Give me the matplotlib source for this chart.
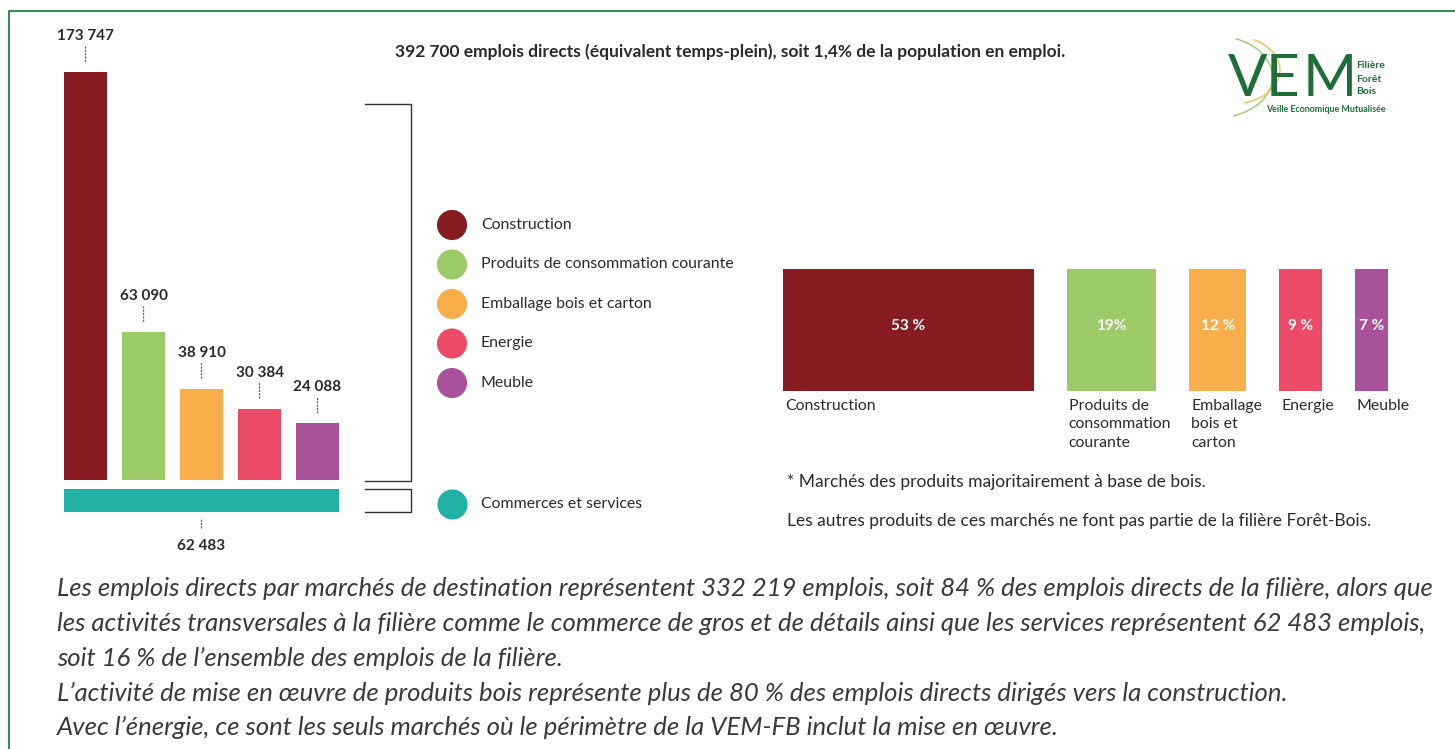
import matplotlib.pyplot as plt
from matplotlib.patches import Arc
import numpy as np

plt.rcParams['font.family'] = ['Lato', 'DejaVu Sans']

# Data
categories = ["Construction", "Produits de consommation courante",
              "Emballage bois et carton", "Energie", "Meuble"]
emplois = [173747, 63090, 38910, 30384, 24088]
emplois_labels = ["173 747", "63 090", "38 910", "30 384", "24 088"]
colors = ["#861c22", "#9dcb6a", "#f7ae4b", "#eb4a68", "#aa519b"]

commerce_label = "Commerces et services"
commerce_value_label = "62 483"
commerce_color = "#20b0a5"

parts = [53, 19, 12, 9, 7]
parts_labels = ["53 %", "19%", "12 %", "9 %", "7 %"]
parts_names = ["Construction", "Produits de\nconsommation\ncourante",
               "Emballage\nbois et\ncarton", "Energie", "Meuble"]

title = "392 700 emplois directs (équivalent temps-plein), soit 1,4% de la population en emploi."
note1 = "* Marchés des produits majoritairement à base de bois."
note2 = "Les autres produits de ces marchés ne font pas partie de la filière Forêt-Bois."
paragraph = [
    "Les emplois directs par marchés de destination représentent 332 219 emplois, soit 84 % des emplois directs de la filière, alors que",
    "les activités transversales à la filière comme le commerce de gros et de détails ainsi que les services représentent 62 483 emplois,",
    "soit 16 % de l’ensemble des emplois de la filière.",
    "L’activité de mise en œuvre de produits bois représente plus de 80 % des emplois directs dirigés vers la construction.",
    "Avec l’énergie, ce sont les seuls marchés où le périmètre de la VEM-FB inclut la mise en œuvre.",
]

W, H = 1455, 749
fig = plt.figure(figsize=(W / 100, H / 100), dpi=100)

# background axes in pixel coordinates
ax = fig.add_axes([0, 0, 1, 1])
ax.set_xlim(0, W)
ax.set_ylim(H, 0)
ax.axis('off')

txt = "#2b2b2b"
dots = (0, (0.8, 1.6))

# frame
ax.plot([9, 9, W], [H, 11, 11], color="#3a8a5c", lw=1.5)

# ---------------- left bar chart ----------------
ax1 = fig.add_axes([64 / W, (H - 480) / H, 276 / W, 408 / H])
x = np.arange(len(emplois))
bw = 43 / 58
ax1.bar(x, emplois, width=bw, color=colors)
ax1.set_xlim(-21.5 / 58, (276 - 21.5) / 58)
ax1.set_ylim(0, max(emplois))
ax1.axis('off')

for i, (v, lab) in enumerate(zip(emplois, emplois_labels)):
    ax1.annotate(lab, xy=(i, v), xytext=(0, 36), textcoords='offset pixels',
                 ha='center', va='center', fontsize=11, fontweight='bold',
                 color=txt, annotation_clip=False)
    ax1.annotate('', xy=(i, v), xytext=(0, 25), textcoords='offset pixels',
                 arrowprops=dict(arrowstyle='-', linestyle=dots,
                                 color='#666666', lw=1, shrinkA=0, shrinkB=7),
                 annotation_clip=False)

# commerce band below the bars
x_mid = (x[0] + x[-1]) / 2
band_w = x[-1] - x[0] + bw
pix = max(emplois) / 408
ax1.bar(x_mid, -23 * pix, bottom=-9 * pix, width=band_w,
        color=commerce_color, clip_on=False)
ax1.annotate('', xy=(x_mid, -32 * pix), xytext=(0, -16), textcoords='offset pixels',
             arrowprops=dict(arrowstyle='-', linestyle=dots,
                             color='#666666', lw=1, shrinkA=0, shrinkB=5),
             annotation_clip=False)
ax1.annotate(commerce_value_label, xy=(x_mid, -32 * pix), xytext=(0, -34),
             textcoords='offset pixels', ha='center', va='center',
             fontsize=11, fontweight='bold', color=txt, annotation_clip=False)

# brackets
ax.plot([365, 411, 411, 365], [104, 104, 481, 481], color="#333333", lw=1)
ax.plot([365, 411, 411, 365], [489, 489, 512, 512], color="#333333", lw=1)

# ---------------- legend ----------------
leg_y = 225 + 39.5 * np.arange(len(categories))
ax.scatter([452] * len(categories), leg_y, s=470, c=colors, lw=0)
for yy, name in zip(leg_y, categories):
    ax.text(481, yy, name, ha='left', va='center', fontsize=11.4, color=txt)
ax.scatter([452], [504], s=470, c=commerce_color, lw=0)
ax.text(481, 504, commerce_label, ha='left', va='center', fontsize=11.4, color=txt)

# ---------------- percent bars ----------------
ax2 = fig.add_axes([783 / W, (H - 391) / H, 605 / W, 122 / H])
gap = 7
lefts = np.concatenate([[0], np.cumsum(np.array(parts[:-1]) + gap)])
ax2.bar(lefts, [1] * len(parts), width=parts, align='edge', color=colors)
ax2.set_xlim(0, sum(parts) + gap * (len(parts) - 1))
ax2.set_ylim(0, 1)
ax2.axis('off')
for l, p, lab, name in zip(lefts, parts, parts_labels, parts_names):
    ax2.text(l + p / 2, 0.53, lab, ha='center', va='center', fontsize=11,
             fontweight='bold', color='white')
    ax2.annotate(name, xy=(l, 0), xytext=(2, -8), textcoords='offset pixels',
                 ha='left', va='top', fontsize=11.4, color=txt,
                 linespacing=1.4, annotation_clip=False)

ax.text(787, 482, note1, ha='left', va='center', fontsize=12.5, color=txt)
ax.text(787, 521, note2, ha='left', va='center', fontsize=12.5, color=txt)

# title
ax.text(730, 52, title, ha='center', va='center', fontsize=12.5,
        fontweight='bold', color=txt)

# paragraph
for k, line in enumerate(paragraph):
    ax.text(57, 589 + 34.7 * k, line, ha='left', va='center', fontsize=18.5,
            style='italic', color="#3a3a3a")

# ---------------- logo ----------------
green = "#1f6e3a"
for letter, lx in zip("VEM", [1228, 1266, 1303]):
    ax.text(lx, 96, letter, ha='left', va='baseline', fontsize=42, color=green)
ax.add_patch(Arc((1215, 77), 115, 82, theta1=-62, theta2=65, color="#9dcb6a", lw=1))
ax.add_patch(Arc((1232, 70), 96, 68, theta1=-55, theta2=70, color="#f2c14e", lw=1))
ax.text(1356, 66, "Filière", ha='left', va='center', fontsize=7.5, color=green,
        fontweight='bold')
ax.text(1356, 79, "Forêt", ha='left', va='center', fontsize=7.5, color=green,
        fontweight='bold')
ax.text(1356, 92, "Bois", ha='left', va='center', fontsize=7.5, color=green,
        fontweight='bold')
ax.text(1266, 110, "Veille Economique Mutualisée", ha='left', va='center',
        fontsize=6.4, color=green, fontweight='bold')

fig.savefig("out.png", dpi=100)
